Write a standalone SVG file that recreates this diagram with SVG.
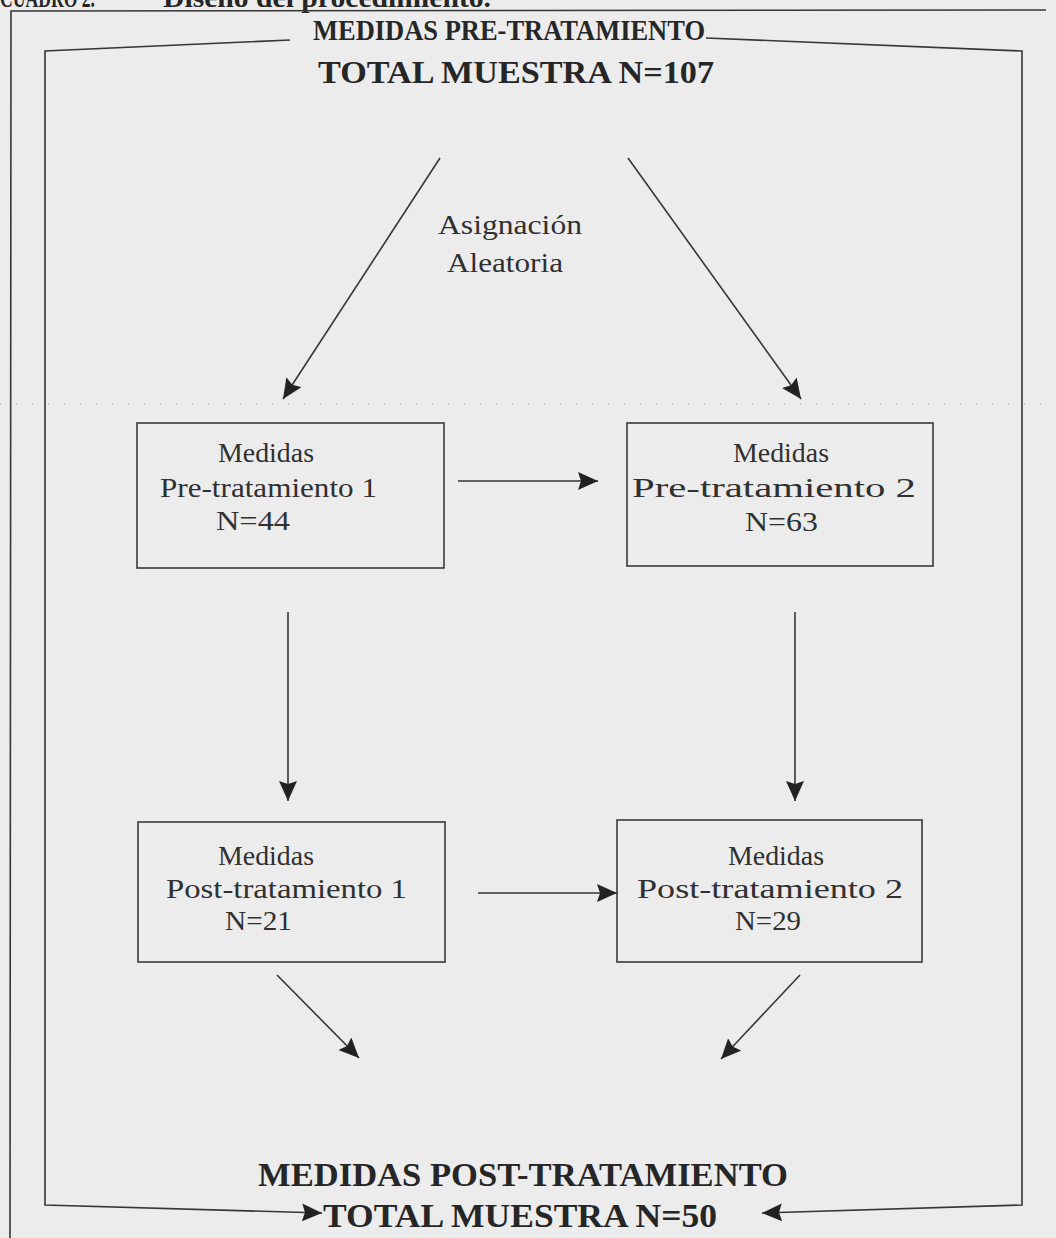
<svg xmlns="http://www.w3.org/2000/svg" width="1056" height="1238" viewBox="0 0 1056 1238">
  <style>
    .bg { fill: #ececec; }
    .ln { fill: none; stroke: #363636; stroke-width: 1.6; }
    .box { fill: none; stroke: #3a3a3a; stroke-width: 1.6; }
    .head { font-family: "Liberation Serif", "Times New Roman", serif; font-weight: bold; fill: #262626; }
    .body { font-family: "Liberation Serif", "Times New Roman", serif; font-size: 27px; fill: #303030; }
    .dots { fill: none; stroke: #b4b4b4; stroke-width: 1.5; stroke-dasharray: 1 15; }
  </style>
  <defs>
    <marker id="arrow" markerUnits="userSpaceOnUse" markerWidth="20" markerHeight="18" refX="20" refY="9" orient="auto">
      <path d="M0,0 L20,9 L0,18 L3,9 z" fill="#222"/>
    </marker>
  </defs>

  <rect class="bg" x="0" y="0" width="1056" height="1238"/>

  <!-- caption running off the top edge -->
  <text class="head" font-size="27" x="0" y="7" textLength="95" lengthAdjust="spacingAndGlyphs">CUADRO 2.</text>
  <text class="head" font-size="27" x="163" y="7" textLength="328" lengthAdjust="spacingAndGlyphs">Diseño del procedimiento.</text>

  <!-- page frame -->
  <path class="ln" d="M10,1238 L11,11 L1046,10"/>
  <path class="dots" d="M0,404 L1056,404"/>

  <!-- headings -->
  <g id="pre-total">
    <text class="head" font-size="29" x="509" y="40" text-anchor="middle" textLength="392" lengthAdjust="spacingAndGlyphs">MEDIDAS PRE-TRATAMIENTO</text>
    <text class="head" font-size="32" x="516" y="83" text-anchor="middle" textLength="396" lengthAdjust="spacingAndGlyphs">TOTAL MUESTRA N=107</text>
  </g>
  <g id="post-total">
    <text class="head" font-size="33" x="523" y="1186" text-anchor="middle" textLength="530" lengthAdjust="spacingAndGlyphs">MEDIDAS POST-TRATAMIENTO</text>
    <text class="head" font-size="33" x="520" y="1227" text-anchor="middle" textLength="394" lengthAdjust="spacingAndGlyphs">TOTAL MUESTRA N=50</text>
  </g>

  <g id="asignacion">
    <text class="body" x="510" y="234" text-anchor="middle" textLength="144" lengthAdjust="spacingAndGlyphs">Asignación</text>
    <text class="body" x="505" y="272" text-anchor="middle" textLength="116" lengthAdjust="spacingAndGlyphs">Aleatoria</text>
  </g>

  <!-- boxes -->
  <g id="pre1">
    <rect class="box" x="137" y="423" width="307" height="145"/>
    <text class="body" x="266" y="462" text-anchor="middle" textLength="96" lengthAdjust="spacingAndGlyphs">Medidas</text>
    <text class="body" x="160" y="497" textLength="217" lengthAdjust="spacingAndGlyphs">Pre-tratamiento  1</text>
    <text class="body" x="216" y="530" textLength="74" lengthAdjust="spacingAndGlyphs">N=44</text>
  </g>
  <g id="pre2">
    <rect class="box" x="627" y="423" width="306" height="143"/>
    <text class="body" x="781" y="462" text-anchor="middle" textLength="96" lengthAdjust="spacingAndGlyphs">Medidas</text>
    <text class="body" x="632" y="497" textLength="284" lengthAdjust="spacingAndGlyphs">Pre-tratamiento  2</text>
    <text class="body" x="745" y="531" textLength="73" lengthAdjust="spacingAndGlyphs">N=63</text>
  </g>
  <g id="post1">
    <rect class="box" x="138" y="822" width="307" height="140"/>
    <text class="body" x="266" y="865" text-anchor="middle" textLength="96" lengthAdjust="spacingAndGlyphs">Medidas</text>
    <text class="body" x="166" y="898" textLength="241" lengthAdjust="spacingAndGlyphs">Post-tratamiento   1</text>
    <text class="body" x="225" y="930" textLength="67" lengthAdjust="spacingAndGlyphs">N=21</text>
  </g>
  <g id="post2">
    <rect class="box" x="617" y="820" width="305" height="142"/>
    <text class="body" x="776" y="865" text-anchor="middle" textLength="96" lengthAdjust="spacingAndGlyphs">Medidas</text>
    <text class="body" x="637" y="898" textLength="266" lengthAdjust="spacingAndGlyphs">Post-tratamiento  2</text>
    <text class="body" x="735" y="930" textLength="66" lengthAdjust="spacingAndGlyphs">N=29</text>
  </g>

  <!-- connectors -->
  <g id="connectors">
    <path class="ln" d="M290,40 L45,51 L45,1205 L322,1213" marker-end="url(#arrow)"/>
    <path class="ln" d="M706,38 L1022,51 L1022,1205 L762,1213" marker-end="url(#arrow)"/>
    <line class="ln" x1="440" y1="158" x2="283" y2="399" marker-end="url(#arrow)"/>
    <line class="ln" x1="628" y1="158" x2="801" y2="399" marker-end="url(#arrow)"/>
    <line class="ln" x1="458" y1="481" x2="598" y2="481" marker-end="url(#arrow)"/>
    <line class="ln" x1="288" y1="612" x2="288" y2="801" marker-end="url(#arrow)"/>
    <line class="ln" x1="795" y1="612" x2="795" y2="801" marker-end="url(#arrow)"/>
    <line class="ln" x1="478" y1="893" x2="617" y2="893" marker-end="url(#arrow)"/>
    <line class="ln" x1="277" y1="975" x2="359" y2="1058" marker-end="url(#arrow)"/>
    <line class="ln" x1="800" y1="975" x2="721" y2="1059" marker-end="url(#arrow)"/>
  </g>
</svg>
